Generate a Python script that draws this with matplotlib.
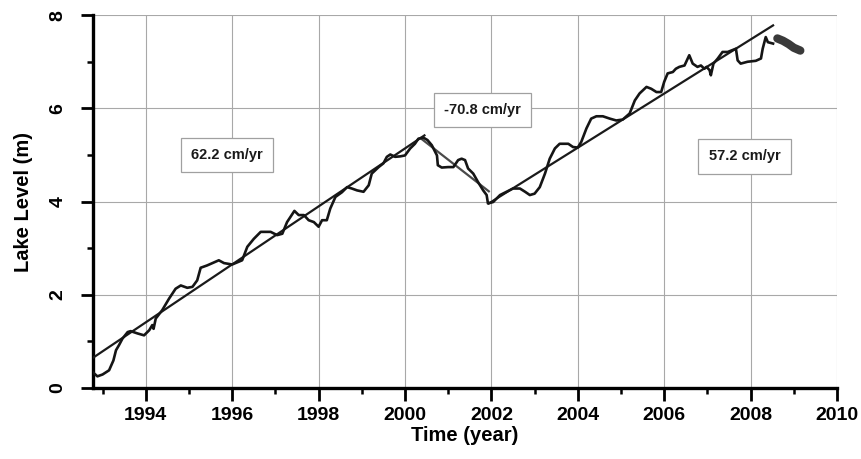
import matplotlib
matplotlib.use("Agg")
import matplotlib.pyplot as plt
from matplotlib.ticker import MultipleLocator

plt.rcParams['font.family'] = ['Liberation Sans', 'DejaVu Sans']

# Lake level observations (year, m)
years = [1992.77, 1992.88, 1993.00, 1993.15, 1993.25, 1993.31, 1993.38, 1993.46, 1993.58, 1993.65,
         1993.81, 1993.96, 1994.08, 1994.15, 1994.18, 1994.23, 1994.38, 1994.54, 1994.69, 1994.81,
         1994.96, 1995.08, 1995.19, 1995.27, 1995.42, 1995.69, 1995.81, 1996.00, 1996.23, 1996.35,
         1996.50, 1996.66, 1996.89, 1997.04, 1997.16, 1997.27, 1997.44, 1997.54, 1997.66, 1997.77,
         1997.89, 1998.00, 1998.08, 1998.19, 1998.27, 1998.39, 1998.54, 1998.66, 1998.77, 1998.89,
         1999.04, 1999.16, 1999.23, 1999.39, 1999.50, 1999.58, 1999.66, 1999.77, 1999.89, 2000.00,
         2000.12, 2000.23, 2000.31, 2000.43, 2000.52, 2000.62, 2000.74, 2000.76, 2000.85, 2001.00,
         2001.12, 2001.23, 2001.31, 2001.39, 2001.46, 2001.58, 2001.69, 2001.81, 2001.89, 2001.92,
         2002.04, 2002.20, 2002.35, 2002.50, 2002.66, 2002.78, 2002.89, 2003.00, 2003.12, 2003.24,
         2003.35, 2003.47, 2003.58, 2003.78, 2003.89, 2004.00, 2004.08, 2004.20, 2004.31, 2004.43,
         2004.58, 2004.74, 2004.89, 2005.04, 2005.20, 2005.32, 2005.43, 2005.59, 2005.70, 2005.82,
         2005.93, 2006.00, 2006.08, 2006.20, 2006.27, 2006.35, 2006.47, 2006.58, 2006.66, 2006.77,
         2006.85, 2006.93, 2006.98, 2007.05, 2007.08, 2007.14, 2007.24, 2007.35, 2007.47, 2007.58,
         2007.66, 2007.70, 2007.77, 2007.93, 2008.12, 2008.24, 2008.28, 2008.35, 2008.40, 2008.52]
level = [0.34, 0.25, 0.29, 0.38, 0.59, 0.81, 0.92, 1.06, 1.20, 1.22,
         1.17, 1.13, 1.24, 1.35, 1.27, 1.49, 1.67, 1.92, 2.13, 2.20,
         2.15, 2.17, 2.31, 2.58, 2.63, 2.74, 2.68, 2.65, 2.74, 3.03,
         3.20, 3.35, 3.35, 3.28, 3.31, 3.56, 3.80, 3.71, 3.71, 3.60,
         3.56, 3.46, 3.60, 3.60, 3.85, 4.10, 4.20, 4.31, 4.28, 4.24,
         4.21, 4.35, 4.60, 4.74, 4.82, 4.96, 5.01, 4.96, 4.97, 4.99,
         5.14, 5.24, 5.35, 5.37, 5.32, 5.21, 4.99, 4.78, 4.73, 4.74,
         4.74, 4.89, 4.92, 4.89, 4.71, 4.60, 4.42, 4.24, 4.14, 3.96,
         3.99, 4.14, 4.21, 4.28, 4.28, 4.21, 4.14, 4.17, 4.31, 4.60,
         4.92, 5.14, 5.24, 5.24, 5.17, 5.16, 5.28, 5.57, 5.78, 5.83,
         5.83, 5.78, 5.74, 5.76, 5.89, 6.17, 6.32, 6.46, 6.42, 6.35,
         6.35, 6.57, 6.75, 6.78, 6.85, 6.89, 6.92, 7.14, 6.96, 6.89,
         6.92, 6.85, 6.89, 6.82, 6.71, 6.96, 7.07, 7.21, 7.21, 7.25,
         7.28, 7.03, 6.96, 7.00, 7.02, 7.07, 7.28, 7.53, 7.42, 7.39]

# Dense recent scribble (2008.6 - 2009.2)
recent_years = [2008.62, 2008.75, 2008.88, 2009.00, 2009.15]
recent_level = [7.50, 7.45, 7.38, 7.30, 7.24]

# Trend lines: (start year, end year, start level, end level)
trend_x = [[1992.78, 2000.45], [2000.36, 2001.94], [2001.94, 2008.52]]
trend_y = [[0.65, 5.42], [5.36, 4.22], [3.96, 7.78]]
trend_colors = ['#1a1a1a', '#4a4a4a', '#1a1a1a']

labels = ['62.2 cm/yr', '-70.8 cm/yr', '57.2 cm/yr']
label_x = [1995.87, 2001.79, 2007.86]
label_y = [5.00, 5.96, 4.97]

x_ticks = [1994, 1996, 1998, 2000, 2002, 2004, 2006, 2008, 2010]
x_tick_labels = ['1994', '1996', '1998', '2000', '2002', '2004', '2006', '2008', '2010']
y_ticks = [0, 2, 4, 6, 8]
y_tick_labels = ['0', '2', '4', '6', '8']

fig = plt.figure(figsize=(8.62, 4.59), dpi=100)
ax = fig.add_axes([0.108, 0.1547, 0.863, 0.8123])

ax.set_xlim(1992.78, 2010)
ax.set_ylim(0, 8)

ax.grid(True, which='major', color='#a8a8a8', linewidth=0.8)
ax.set_axisbelow(True)

for tx, ty, c in zip(trend_x, trend_y, trend_colors):
    ax.plot(tx, ty, color=c, linewidth=1.6, zorder=3)

ax.plot(years, level, color='#151515', linewidth=1.9, zorder=4)
ax.plot(recent_years, recent_level, color='#3a3a3a', linewidth=6, solid_capstyle='round', zorder=4)

for t, x, y in zip(labels, label_x, label_y):
    ax.text(x, y, t, ha='center', va='center', fontsize=10.5, fontweight='bold', color='#1a1a1a',
            bbox=dict(boxstyle='square,pad=0.7', facecolor='white', edgecolor='#a0a0a0', linewidth=0.9),
            zorder=5)

ax.set_xticks(x_ticks)
ax.set_xticklabels(x_tick_labels, fontweight='bold', fontsize=14)
ax.set_yticks(y_ticks)
ax.set_yticklabels(y_tick_labels, fontweight='bold', fontsize=14, rotation=90, va='center')
ax.xaxis.set_minor_locator(MultipleLocator(1))
ax.yaxis.set_minor_locator(MultipleLocator(1))

ax.spines['top'].set_visible(False)
ax.spines['right'].set_visible(False)
ax.spines['left'].set_linewidth(2.4)
ax.spines['bottom'].set_linewidth(2.4)

ax.tick_params(axis='both', which='major', direction='out', length=9, width=2, pad=5)
ax.tick_params(axis='both', which='minor', direction='out', length=4.5, width=1.8)
ax.tick_params(axis='y', which='major', pad=10)

ax.set_xlabel('Time (year)', fontsize=14.5, fontweight='bold', labelpad=1)
ax.set_ylabel('Lake Level (m)', fontsize=14.5, fontweight='bold', labelpad=12)

fig.savefig('out.png', dpi=100)
